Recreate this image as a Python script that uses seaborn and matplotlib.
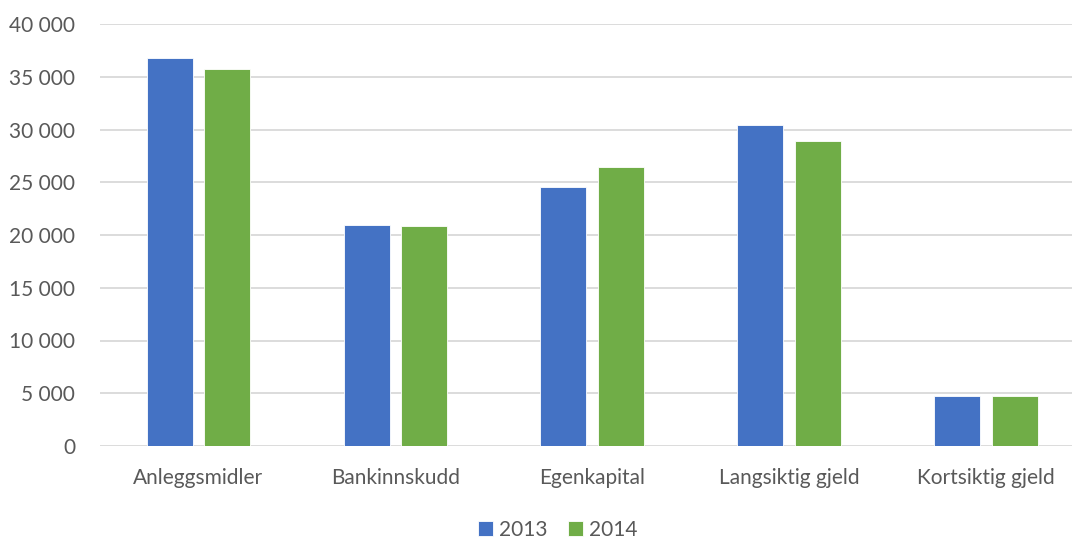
import pandas as pd
import seaborn as sns
import matplotlib.pyplot as plt
from matplotlib.ticker import FuncFormatter

categories = ["Anleggsmidler", "Bankinnskudd", "Egenkapital", "Langsiktig gjeld", "Kortsiktig gjeld"]
years = ["2013", "2014"]
values_2013 = [36750, 20920, 24580, 30450, 4740]
values_2014 = [35760, 20890, 26440, 28910, 4740]

df = pd.DataFrame({
    "Kategori": categories * 2,
    "År": [years[0]] * len(categories) + [years[1]] * len(categories),
    "Verdi": values_2013 + values_2014,
})

sns.set_theme(style="white")
plt.rcParams["font.family"] = ["Lato", "DejaVu Sans"]
text_color = "#595959"

fig = plt.figure(figsize=(10.72, 5.39), dpi=100)
# plot area runs a little past the right edge of the image, as in the original
ax = fig.add_axes([100 / 1072, 1 - 446 / 539, 984.5 / 1072, 422 / 539])

sns.barplot(data=df, x="Kategori", y="Verdi", hue="År", ax=ax,
            palette=["#4472C4", "#70AD47"], saturation=1, width=0.585, gap=0.2,
            edgecolor="white", linewidth=0.6, zorder=3)

ax.set_ylim(0, 40000)
ax.set_yticks(range(0, 40001, 5000))
ax.yaxis.set_major_formatter(FuncFormatter(lambda v, p: f"{int(v):,}".replace(",", " ")))
ax.grid(axis="y", color="#D9D9D9", linewidth=1.3, zorder=0)
ax.set_axisbelow(True)
for s in ax.spines.values():
    s.set_visible(False)
ax.tick_params(axis="both", length=0, labelsize=15, colors=text_color)
ax.tick_params(axis="y", pad=18)
ax.tick_params(axis="x", pad=16)
ax.set_xlabel("")
ax.set_ylabel("")

handles, labels = ax.get_legend_handles_labels()
ax.get_legend().remove()
fig.legend(handles, labels, loc="center", bbox_to_anchor=(558 / 1072, 1 - 530 / 539),
           ncol=2, frameon=False, fontsize=15, handlelength=0.7, handleheight=0.7,
           handletextpad=0.3, columnspacing=1.0, labelcolor=text_color)

plt.savefig("out.png", dpi=100)
